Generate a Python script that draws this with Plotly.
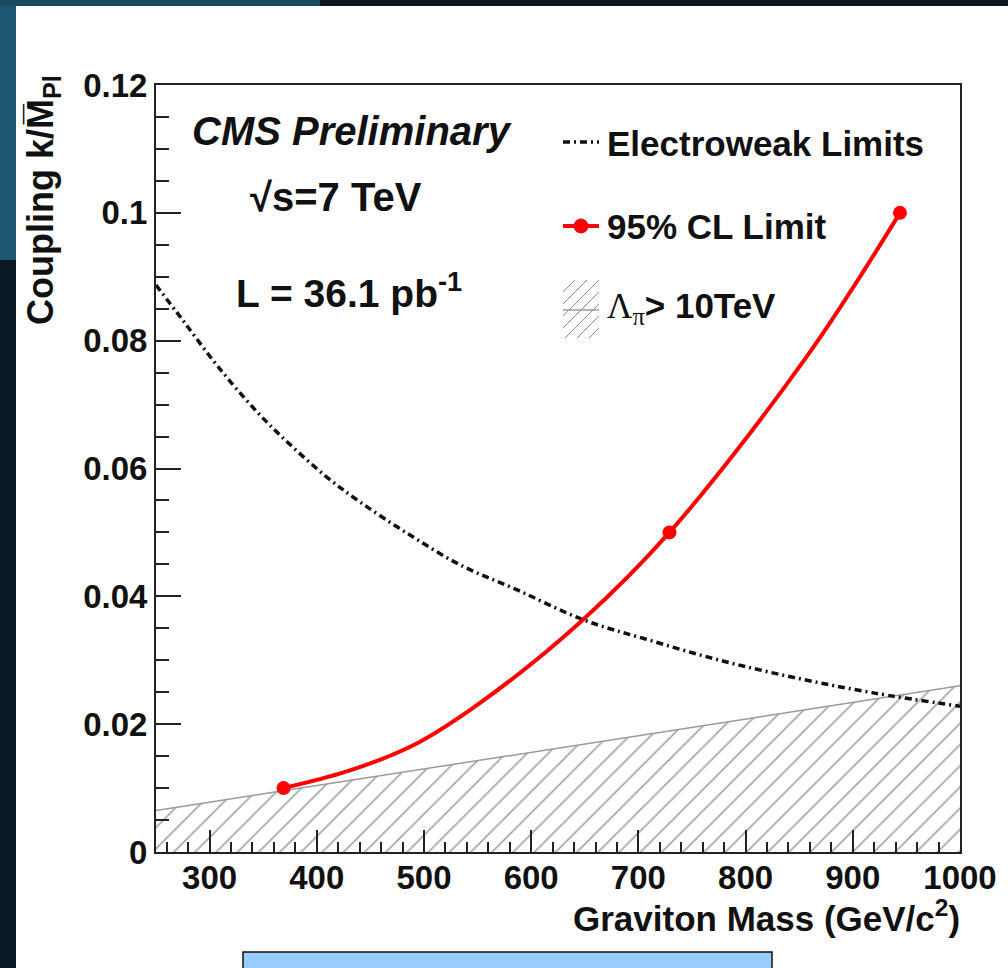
import plotly.graph_objects as go

# ---- data -------------------------------------------------------------
# 95% CL exclusion points (graviton mass in GeV/c^2, coupling k/M_Pl)
limit_mass = [369, 729, 944]
limit_coupling = [0.010, 0.050, 0.100]

# smooth limit curve traced through the exclusion points
curve_mass = [369, 428, 490, 552, 646, 729, 857, 944]
curve_coupling = [0.0100, 0.0126, 0.0167, 0.0233, 0.0360, 0.0500, 0.0775, 0.1000]

# Electroweak precision limit
ew_mass = [250, 275, 308, 344, 369, 409, 440, 484, 534, 587, 649, 705, 776, 848, 919, 1000]
ew_coupling = [0.0887, 0.0832, 0.0759, 0.0689, 0.0647, 0.0587, 0.0548, 0.0499,
               0.0449, 0.0410, 0.0363, 0.0334, 0.0300, 0.0272, 0.0249, 0.0228]

# Lambda_pi > 10 TeV boundary
lam_mass = [250, 1000]
lam_coupling = [0.0065, 0.026]

x_tick_vals = [300, 400, 500, 600, 700, 800, 900, 1000]
y_tick_vals = [0, 0.02, 0.04, 0.06, 0.08, 0.10, 0.12]
y_tick_text = ["0", "0.02", "0.04", "0.06", "0.08", "0.1", "0.12"]

# ---- canvas geometry --------------------------------------------------
W, H = 1008, 968
ML, MR, MT, MB = 156, 48, 85, 116
PW, PH = W - ML - MR, H - MT - MB


def px(x):
    return (x - ML) / PW


def py(y):
    return (H - MB - y) / PH


FONT = "Liberation Sans, Arial, sans-serif"
BLACK = "#111111"
RED = "#ff0000"
EW_DASH = "7px,4px,2px,4px"

fig = go.Figure()

# hatched region of Lambda_pi > 10 TeV
fig.add_trace(go.Scatter(
    x=lam_mass, y=lam_coupling, mode="lines", fill="tozeroy",
    line=dict(color="#9a9a9a", width=1.5),
    fillcolor="rgba(0,0,0,0)",
    fillpattern=dict(shape="/", size=15, solidity=0.12, fgcolor="#505050", bgcolor="white"),
    hoverinfo="skip", showlegend=False,
))

# electroweak limit
fig.add_trace(go.Scatter(
    x=ew_mass, y=ew_coupling, mode="lines",
    line=dict(color=BLACK, width=3.5, dash=EW_DASH, shape="spline"),
    showlegend=False,
))

# 95% CL limit: curve and points
fig.add_trace(go.Scatter(
    x=curve_mass, y=curve_coupling, mode="lines",
    line=dict(color=RED, width=4, shape="spline", smoothing=1.0),
    showlegend=False,
))
fig.add_trace(go.Scatter(
    x=limit_mass, y=limit_coupling, mode="markers",
    marker=dict(color=RED, size=14, symbol="circle"),
    showlegend=False,
))

shapes = []
# dark backdrop patches and the white page
shapes.append(dict(type="rect", xref="paper", yref="paper", x0=px(0), x1=px(16), y0=py(0), y1=py(260),
                   fillcolor="#1c5670", line_width=0, layer="below"))
shapes.append(dict(type="rect", xref="paper", yref="paper", x0=px(0), x1=px(320), y0=py(0), y1=py(6),
                   fillcolor="#184a60", line_width=0, layer="below"))
shapes.append(dict(type="rect", xref="paper", yref="paper", x0=px(16), x1=px(W + 2), y0=py(6), y1=py(H + 2),
                   fillcolor="white", line_width=0, layer="below"))
# light blue box under the axis title
shapes.append(dict(type="rect", xref="paper", yref="paper", x0=px(243), x1=px(772), y0=py(952), y1=py(H + 4),
                   fillcolor="#99ccff", line=dict(color=BLACK, width=1.5), layer="above"))

# legend keys
LX0, LX1 = 563, 599
shapes.append(dict(type="line", xref="paper", yref="paper", x0=px(LX0), x1=px(LX1), y0=py(142), y1=py(142),
                   line=dict(color=BLACK, width=3.5, dash=EW_DASH)))
shapes.append(dict(type="line", xref="paper", yref="paper", x0=px(LX0), x1=px(LX1), y0=py(226), y1=py(226),
                   line=dict(color=RED, width=4)))
shapes.append(dict(type="circle", xref="paper", yref="paper", x0=px(574), x1=px(588), y0=py(219), y1=py(233),
                   fillcolor=RED, line=dict(color=RED, width=1)))
# hatched key: diagonal strokes clipped to the key box
bx0, bx1, by0, by1 = LX0, LX1, 280, 338
step = 12
c = bx0 + by0
while c < bx1 + by1 + step:
    # line: x + y = c  (rises to the right)
    xa = max(bx0, c - by1)
    xb = min(bx1, c - by0)
    if xb > xa:
        shapes.append(dict(type="line", xref="paper", yref="paper",
                           x0=px(xa), y0=py(c - xa), x1=px(xb), y1=py(c - xb),
                           line=dict(color="#8a8a8a", width=1)))
    c += step
shapes.append(dict(type="line", xref="paper", yref="paper", x0=px(LX0), x1=px(LX1), y0=py(310), y1=py(310),
                   line=dict(color="#9a9a9a", width=1.5)))

annotations = []


def note(text, x, y, size, xanchor="left", yanchor="middle", angle=0, style="normal", weight="bold"):
    annotations.append(dict(
        text=text, x=px(x), y=py(y), xref="paper", yref="paper",
        xanchor=xanchor, yanchor=yanchor, textangle=angle, showarrow=False,
        font=dict(family=FONT, size=size, color=BLACK, weight=weight, style=style),
    ))


note("CMS Preliminary", 190, 131, 40, style="italic")
note("√s=7 TeV", 248, 197, 40)
note("L = 36.1 pb<sup>-1</sup>", 234, 290, 39)
note("Electroweak Limits", 605, 143, 35)
note("95% CL Limit", 605, 227, 35)
note("<span style='font-family:Liberation Serif, Times New Roman, serif;font-weight:normal'>Λ<sub>π</sub></span>> 10TeV",
     605, 308, 35)
note("Graviton Mass (GeV/c<sup>2</sup>)", 962, 916, 35, xanchor="right")
note("Coupling k/M\u0305<sub>Pl</sub>", 43, 73, 36, xanchor="center", yanchor="top", angle=-90)

axis_common = dict(
    showgrid=False, zeroline=False, showline=True, linecolor="#222222", linewidth=2, mirror=True,
    ticks="inside", tickcolor="#222222", tickwidth=1.5,
    tickfont=dict(family=FONT, size=33, color=BLACK, weight="bold"),
)

fig.update_layout(
    width=W, height=H,
    margin=dict(l=ML, r=MR, t=MT, b=MB, pad=0),
    paper_bgcolor="#0a1824", plot_bgcolor="white",
    shapes=shapes, annotations=annotations,
    xaxis=dict(range=[250, 1000], tickvals=x_tick_vals, ticklen=22, ticklabelstandoff=-5,
               minor=dict(dtick=20, tick0=0, ticklen=10, ticks="inside", tickcolor="#222222", tickwidth=1.5),
               **axis_common),
    yaxis=dict(range=[0, 0.12], tickvals=y_tick_vals, ticktext=y_tick_text, ticklen=25,
               minor=dict(dtick=0.005, tick0=0, ticklen=13, ticks="inside", tickcolor="#222222", tickwidth=1.5),
               **axis_common),
)

fig.write_html("out.html")
